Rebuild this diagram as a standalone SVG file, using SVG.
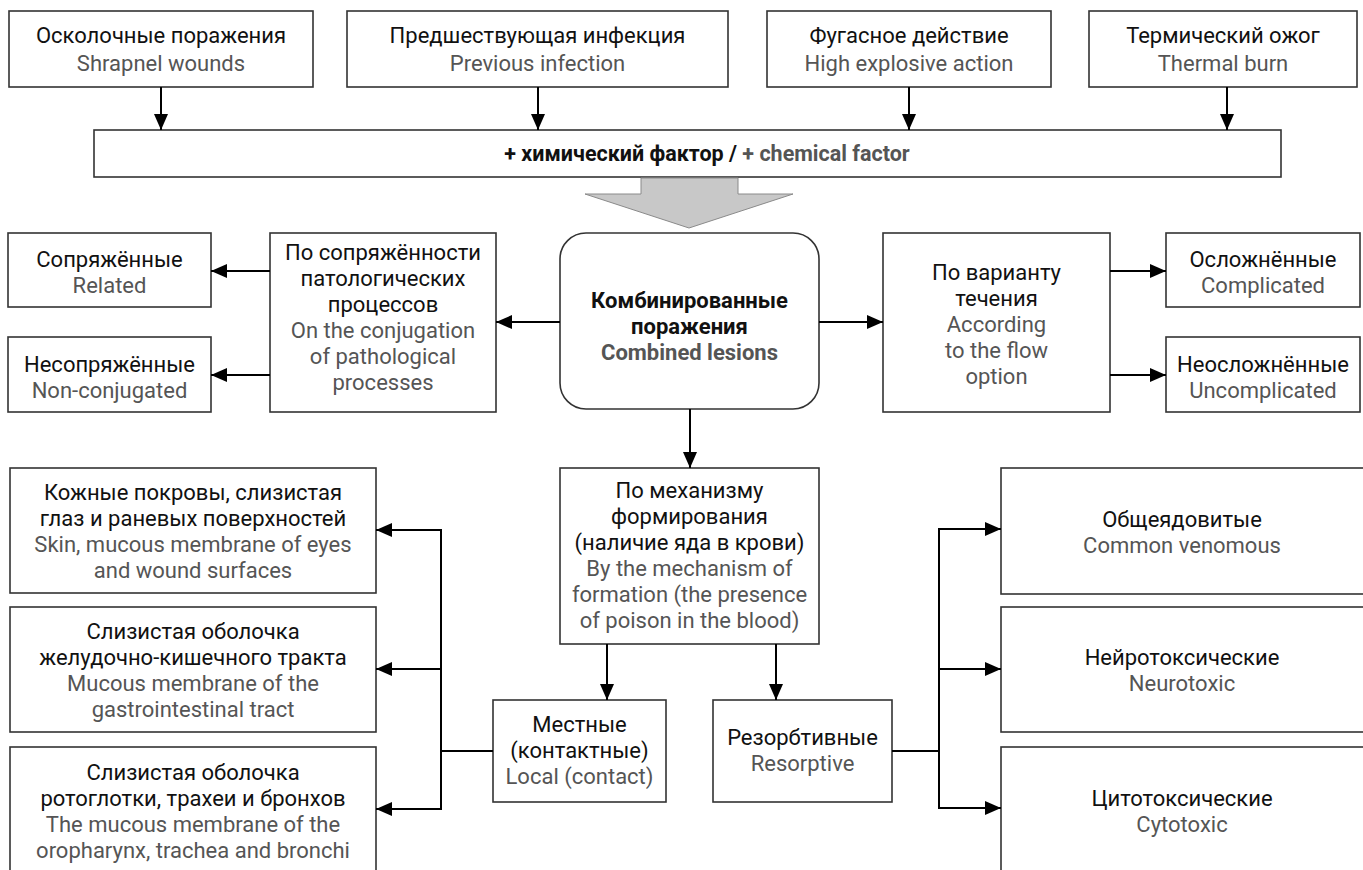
<svg xmlns="http://www.w3.org/2000/svg" width="1363" height="870" viewBox="0 0 1363 870">
<defs>
<style>
.box{fill:#fff;stroke:#333;stroke-width:1.6}
.ru{font-family:Roboto,"Liberation Sans",sans-serif;font-size:22px;fill:#111;text-anchor:middle}
.en{font-family:Roboto,"Liberation Sans",sans-serif;font-size:22px;fill:#555;text-anchor:middle}
.b{font-weight:700}
.con{fill:none;stroke:#000;stroke-width:2}
</style>
<marker id="ah" markerWidth="17" markerHeight="14" refX="16" refY="7" orient="auto" markerUnits="userSpaceOnUse">
<path d="M0,0 L16,7 L0,14 z" fill="#000"/>
</marker>
</defs>
<rect width="1363" height="870" fill="#fff"/>

<g id="n-shrapnel">
<rect class="box" x="9" y="11" width="304" height="76"/>
<text class="ru" x="161" y="43">Осколочные поражения</text>
<text class="en" x="161" y="71">Shrapnel wounds</text>
</g>
<g id="n-infection">
<rect class="box" x="347" y="11" width="381" height="76"/>
<text class="ru" x="537.5" y="43">Предшествующая инфекция</text>
<text class="en" x="537.5" y="71">Previous infection</text>
</g>
<g id="n-explosive">
<rect class="box" x="767" y="11" width="284" height="76"/>
<text class="ru" x="909" y="43">Фугасное действие</text>
<text class="en" x="909" y="71">High explosive action</text>
</g>
<g id="n-burn">
<rect class="box" x="1089" y="11" width="268" height="76"/>
<text class="ru" x="1223" y="43">Термический ожог</text>
<text class="en" x="1223" y="71">Thermal burn</text>
</g>

<g id="n-chemical">
<rect class="box" x="94" y="130" width="1187" height="47"/>
<text x="707" y="161" style="font-family:Roboto,'Liberation Sans',sans-serif;font-size:21.5px;font-weight:700;text-anchor:middle"><tspan fill="#111">+ химический фактор / </tspan><tspan fill="#555">+ chemical factor</tspan></text>
</g>

<g id="n-bigarrow">
<polygon points="641,178 738,178 738,194 793,194 689,228 585,194 641,194" fill="#c8c8c8" stroke="#8a8a8a" stroke-width="1"/>
</g>

<g id="n-combined">
<rect class="box" x="560" y="233" width="259" height="176" rx="26" ry="26"/>
<text class="ru b" x="689.5" y="308">Комбинированные</text>
<text class="ru b" x="689.5" y="334">поражения</text>
<text class="en b" x="689.5" y="360">Combined lesions</text>
</g>

<g id="n-conj">
<rect class="box" x="270" y="233" width="226" height="179"/>
<text class="ru" x="383" y="260">По сопряжённости</text>
<text class="ru" x="383" y="286">патологических</text>
<text class="ru" x="383" y="312">процессов</text>
<text class="en" x="383" y="338">On the conjugation</text>
<text class="en" x="383" y="364">of pathological</text>
<text class="en" x="383" y="390">processes</text>
</g>
<g id="n-related">
<rect class="box" x="8" y="233" width="203" height="74"/>
<text class="ru" x="109.5" y="267">Сопряжённые</text>
<text class="en" x="109.5" y="293">Related</text>
</g>
<g id="n-nonconj">
<rect class="box" x="8" y="337" width="203" height="75"/>
<text class="ru" x="109.5" y="372">Несопряжённые</text>
<text class="en" x="109.5" y="398">Non-conjugated</text>
</g>

<g id="n-flow">
<rect class="box" x="883" y="233" width="227" height="179"/>
<text class="ru" x="996.5" y="280">По варианту</text>
<text class="ru" x="996.5" y="306">течения</text>
<text class="en" x="996.5" y="332">According</text>
<text class="en" x="996.5" y="358">to the flow</text>
<text class="en" x="996.5" y="384">option</text>
</g>
<g id="n-complicated">
<rect class="box" x="1166" y="233" width="194" height="74"/>
<text class="ru" x="1263" y="267">Осложнённые</text>
<text class="en" x="1263" y="293">Complicated</text>
</g>
<g id="n-uncomplicated">
<rect class="box" x="1166" y="337" width="194" height="75"/>
<text class="ru" x="1263" y="372">Неосложнённые</text>
<text class="en" x="1263" y="398">Uncomplicated</text>
</g>

<g id="n-mechanism">
<rect class="box" x="560" y="468" width="259" height="176"/>
<text class="ru" x="689.5" y="498">По механизму</text>
<text class="ru" x="689.5" y="524">формирования</text>
<text class="ru" x="689.5" y="550">(наличие яда в крови)</text>
<text class="en" x="689.5" y="576">By the mechanism of</text>
<text class="en" x="689.5" y="602">formation (the presence</text>
<text class="en" x="689.5" y="628">of poison in the blood)</text>
</g>

<g id="n-local">
<rect class="box" x="493" y="700" width="173" height="102"/>
<text class="ru" x="579.5" y="732">Местные</text>
<text class="ru" x="579.5" y="758">(контактные)</text>
<text class="en" x="579.5" y="784">Local (contact)</text>
</g>
<g id="n-resorptive">
<rect class="box" x="713" y="700" width="179" height="102"/>
<text class="ru" x="802.5" y="745">Резорбтивные</text>
<text class="en" x="802.5" y="771">Resorptive</text>
</g>

<g id="n-skin">
<rect class="box" x="10" y="468" width="366" height="125"/>
<text class="ru" x="193" y="500">Кожные покровы, слизистая</text>
<text class="ru" x="193" y="526">глаз и раневых поверхностей</text>
<text class="en" x="193" y="552">Skin, mucous membrane of eyes</text>
<text class="en" x="193" y="578">and wound surfaces</text>
</g>
<g id="n-gi">
<rect class="box" x="10" y="607" width="366" height="125"/>
<text class="ru" x="193" y="639">Слизистая оболочка</text>
<text class="ru" x="193" y="665">желудочно-кишечного тракта</text>
<text class="en" x="193" y="691">Mucous membrane of the</text>
<text class="en" x="193" y="717">gastrointestinal tract</text>
</g>
<g id="n-oro">
<rect class="box" x="10" y="747" width="366" height="130"/>
<text class="ru" x="193" y="780">Слизистая оболочка</text>
<text class="ru" x="193" y="806">ротоглотки, трахеи и бронхов</text>
<text class="en" x="193" y="832">The mucous membrane of the</text>
<text class="en" x="193" y="858">oropharynx, trachea and bronchi</text>
</g>

<g id="n-venomous">
<rect class="box" x="1001" y="468" width="364" height="126"/>
<text class="ru" x="1182" y="527">Общеядовитые</text>
<text class="en" x="1182" y="553">Common venomous</text>
</g>
<g id="n-neuro">
<rect class="box" x="1001" y="607" width="364" height="125"/>
<text class="ru" x="1182" y="665">Нейротоксические</text>
<text class="en" x="1182" y="691">Neurotoxic</text>
</g>
<g id="n-cyto">
<rect class="box" x="1001" y="747" width="364" height="130"/>
<text class="ru" x="1182" y="806">Цитотоксические</text>
<text class="en" x="1182" y="832">Cytotoxic</text>
</g>

<g id="connectors">
<line class="con" x1="161" y1="87" x2="161" y2="130" marker-end="url(#ah)"/>
<line class="con" x1="538" y1="87" x2="538" y2="130" marker-end="url(#ah)"/>
<line class="con" x1="909" y1="87" x2="909" y2="130" marker-end="url(#ah)"/>
<line class="con" x1="1227" y1="87" x2="1227" y2="130" marker-end="url(#ah)"/>

<line class="con" x1="560" y1="322" x2="496" y2="322" marker-end="url(#ah)"/>
<line class="con" x1="270" y1="271" x2="211" y2="271" marker-end="url(#ah)"/>
<line class="con" x1="270" y1="375" x2="211" y2="375" marker-end="url(#ah)"/>

<line class="con" x1="819" y1="322" x2="883" y2="322" marker-end="url(#ah)"/>
<line class="con" x1="1110" y1="271" x2="1166" y2="271" marker-end="url(#ah)"/>
<line class="con" x1="1110" y1="375" x2="1166" y2="375" marker-end="url(#ah)"/>

<line class="con" x1="690" y1="409" x2="690" y2="468" marker-end="url(#ah)"/>
<line class="con" x1="607" y1="644" x2="607" y2="700" marker-end="url(#ah)"/>
<line class="con" x1="776" y1="644" x2="776" y2="700" marker-end="url(#ah)"/>

<polyline class="con" points="493,751 441,751"/>
<polyline class="con" points="441,529 441,810"/>
<line class="con" x1="442" y1="530" x2="376" y2="530" marker-end="url(#ah)"/>
<line class="con" x1="442" y1="669" x2="376" y2="669" marker-end="url(#ah)"/>
<line class="con" x1="442" y1="809" x2="376" y2="809" marker-end="url(#ah)"/>

<polyline class="con" points="892,751 939,751"/>
<polyline class="con" points="939,528 939,809"/>
<line class="con" x1="938" y1="529" x2="1001" y2="529" marker-end="url(#ah)"/>
<line class="con" x1="938" y1="669" x2="1001" y2="669" marker-end="url(#ah)"/>
<line class="con" x1="938" y1="808" x2="1001" y2="808" marker-end="url(#ah)"/>
</g>
</svg>
